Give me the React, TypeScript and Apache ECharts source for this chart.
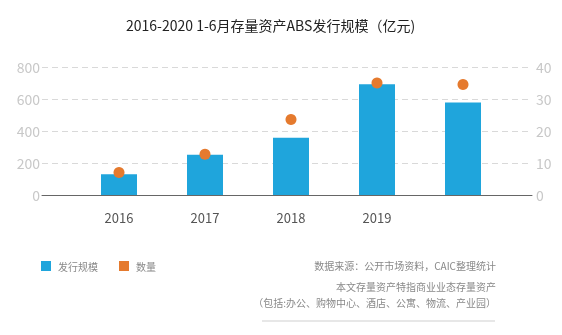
import React, { useEffect, useRef } from "react";
import * as echarts from "echarts";

const categories = ["2016", "2017", "2018", "2019", "2020"];
const tickLabels = ["2016", "2017", "2018", "2019", ""];
const issueScale = [130, 252, 358, 692, 578];
const dealCount = [7, 12.7, 23.6, 35, 34.5];
const sourceLines = [
  "数据来源：公开市场资料，CAIC整理统计",
  "本文存量资产特指商业业态存量资产",
  "（包括:办公、购物中心、酒店、公寓、物流、产业园）",
];

const FONT = "'Noto Sans CJK SC', 'Noto Sans', sans-serif";

export default function App() {
  const ref = useRef<HTMLDivElement>(null);
  useEffect(() => {
    if (!ref.current) return;
    const chart = echarts.init(ref.current, null, { renderer: "svg" });
    const gridTop = 67;
    const gridBottom = 140;
    chart.setOption({
      animation: false,
      textStyle: { fontFamily: FONT },
      title: {
        text: "2016-2020 1-6月存量资产ABS发行规模（亿元)",
        left: 121,
        top: 13,
        textStyle: { fontSize: 14, fontWeight: "normal", color: "#222", fontFamily: FONT },
      },
      legend: {
        left: 41,
        top: 261,
        padding: 0,
        icon: "rect",
        itemWidth: 10,
        itemHeight: 10,
        itemGap: 21,
        textStyle: { fontSize: 10, color: "#888", padding: [0, 0, 0, 2] },
        data: ["发行规模", "数量"],
      },
      grid: [
        { left: 42, right: 30, top: gridTop, bottom: gridBottom },
        { left: 76, right: 56, top: gridTop, bottom: gridBottom },
      ],
      xAxis: [
        {
          type: "category",
          gridIndex: 0,
          data: categories,
          axisLine: { lineStyle: { color: "#666", width: 1 } },
          axisTick: { show: false },
          axisLabel: { show: false },
        },
        {
          type: "category",
          gridIndex: 1,
          data: categories,
          axisLine: { show: false },
          axisTick: { show: false },
          axisLabel: {
            color: "#555",
            fontSize: 13,
            margin: 16,
            formatter: (_v: string, i: number) => tickLabels[i],
          },
        },
      ],
      yAxis: [
        {
          type: "value",
          gridIndex: 0,
          min: 0,
          max: 800,
          interval: 200,
          axisLine: { show: false },
          axisTick: { show: false },
          axisLabel: { color: "#c8c8c8", fontSize: 14, margin: 2 },
          splitLine: { lineStyle: { color: "#d9d9d9", type: [6, 4] } },
        },
        {
          type: "value",
          gridIndex: 0,
          position: "right",
          min: 0,
          max: 40,
          interval: 10,
          axisLine: { show: false },
          axisTick: { show: false },
          axisLabel: { color: "#c8c8c8", fontSize: 14, margin: 4 },
          splitLine: { show: false },
        },
        { type: "value", gridIndex: 1, min: 0, max: 800, show: false },
        { type: "value", gridIndex: 1, min: 0, max: 40, show: false },
      ],
      series: [
        {
          name: "发行规模",
          type: "bar",
          xAxisIndex: 1,
          yAxisIndex: 2,
          data: issueScale,
          barWidth: 36,
          itemStyle: { color: "#1fa5dc" },
        },
        {
          name: "数量",
          type: "scatter",
          xAxisIndex: 1,
          yAxisIndex: 3,
          data: dealCount,
          symbolSize: 11,
          itemStyle: { color: "#e57a2e", opacity: 1 },
          z: 3,
        },
      ],
      graphic: [
        ...sourceLines.map((t, i) => ({
          type: "text",
          right: 66,
          top: [260, 281, 297][i],
          style: {
            text: t,
            fill: "#888",
            font: `10px ${FONT}`,
            textAlign: "right",
          },
        })),
        {
          type: "line",
          shape: { x1: 262, y1: 321, x2: 495, y2: 321 },
          style: { stroke: "#cfcfcf", lineWidth: 1 },
        },
      ],
    });
    return () => chart.dispose();
  }, []);
  return (
    <div
      ref={ref}
      style={{ position: "fixed", left: 0, top: 0, width: 562, height: 335 }}
    />
  );
}
